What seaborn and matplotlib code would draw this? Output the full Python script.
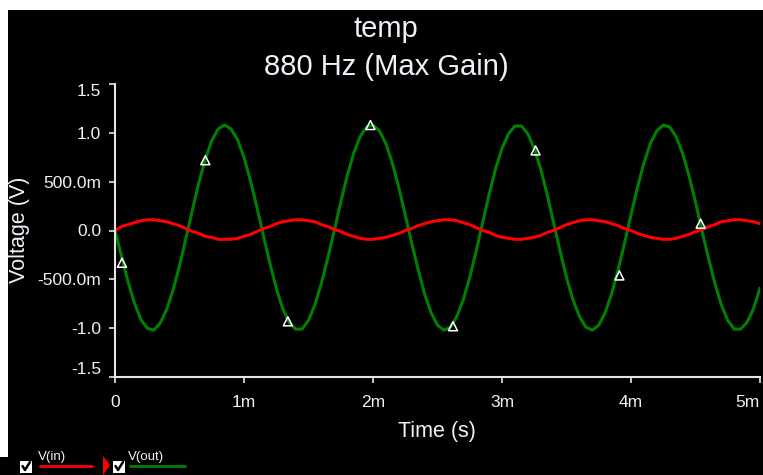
import numpy as np
import pandas as pd
import matplotlib
matplotlib.use('Agg')
import matplotlib.pyplot as plt
import seaborn as sns
from matplotlib.lines import Line2D
from matplotlib.patches import Rectangle

# samples every 0.05 ms, 0 .. 5 ms
time_step_ms = 0.05
v_out = [0.00, -0.26, -0.52, -0.74, -0.91, -1.00, -1.02, -0.95, -0.81, -0.61,
         -0.36, -0.08, 0.21, 0.49, 0.73, 0.92, 1.04, 1.08, 1.04, 0.93,
         0.75, 0.51, 0.24, -0.05, -0.33, -0.59, -0.80, -0.94, -1.01, -1.01,
         -0.92, -0.76, -0.54, -0.28, 0.00, 0.29, 0.56, 0.79, 0.96, 1.06,
         1.08, 1.02, 0.89, 0.69, 0.44, 0.16, -0.13, -0.40, -0.65, -0.84,
         -0.97, -1.02, -0.99, -0.88, -0.71, -0.48, -0.21, 0.08, 0.37, 0.63,
         0.84, 0.99, 1.07, 1.07, 0.99, 0.84, 0.63, 0.37, 0.08, -0.21,
         -0.48, -0.71, -0.88, -0.99, -1.02, -0.97, -0.84, -0.65, -0.40, -0.13,
         0.16, 0.44, 0.69, 0.89, 1.02, 1.08, 1.06, 0.96, 0.79, 0.56,
         0.29, 0.00, -0.28, -0.54, -0.76, -0.92, -1.01, -1.01, -0.94, -0.80,
         -0.59]
v_in = [0.00, 0.04, 0.06, 0.08, 0.10, 0.11, 0.11, 0.10, 0.09, 0.07,
        0.05, 0.02, -0.01, -0.03, -0.06, -0.07, -0.09, -0.09, -0.09, -0.08,
        -0.06, -0.04, -0.01, 0.02, 0.04, 0.07, 0.09, 0.10, 0.11, 0.11,
        0.10, 0.09, 0.06, 0.04, 0.01, -0.01, -0.04, -0.06, -0.08, -0.09,
        -0.09, -0.08, -0.07, -0.05, -0.03, 0.00, 0.02, 0.05, 0.07, 0.09,
        0.10, 0.11, 0.11, 0.10, 0.08, 0.06, 0.03, 0.00, -0.02, -0.05,
        -0.07, -0.08, -0.09, -0.09, -0.08, -0.07, -0.05, -0.02, 0.00, 0.03,
        0.06, 0.08, 0.10, 0.11, 0.11, 0.10, 0.09, 0.07, 0.05, 0.02,
        0.00, -0.03, -0.05, -0.07, -0.08, -0.09, -0.09, -0.08, -0.06, -0.04,
        -0.01, 0.01, 0.04, 0.06, 0.09, 0.10, 0.11, 0.11, 0.10, 0.09,
        0.07]
t_ms = np.arange(len(v_out)) * time_step_ms

# data point markers on V(out)
marker_t = [0.054, 0.70, 1.34, 1.98, 2.62, 3.26, 3.91, 4.54]
marker_v = [-0.33, 0.72, -0.93, 1.08, -0.98, 0.82, -0.46, 0.07]

x_ticks = [0, 1, 2, 3, 4, 5]
x_labels = ['0', '1m', '2m', '3m', '4m', '5m']
y_ticks = [-1.5, -1.0, -0.5, 0.0, 0.5, 1.0, 1.5]
y_labels = ['-1.5', '-1.0', '-500.0m', '0.0', '500.0m', '1.0', '1.5']

df = pd.DataFrame({'t': t_ms, 'V(in)': v_in, 'V(out)': v_out})

sns.set_theme(style='dark')
plt.rcParams['font.family'] = ['Liberation Sans', 'DejaVu Sans']

W, H = 763, 475
fig = plt.figure(figsize=(W / 100, H / 100), dpi=100, facecolor='black')
ax = fig.add_axes([115 / W, 1 - 377 / H, 645 / W, 293 / H])
ax.set_facecolor('black')

fg = '#e6e6e6'
txt = '#eef2f8'

sns.lineplot(data=df, x='t', y='V(out)', color='#008000', linewidth=2.2, ax=ax)
sns.lineplot(data=df, x='t', y='V(in)', color='#ff0000', linewidth=2.2, ax=ax)
sns.scatterplot(x=marker_t, y=marker_v, marker='^', s=42, facecolor='none',
                edgecolor='white', linewidth=1.1, ax=ax, zorder=5)

ax.set_xlim(0, 5)
ax.set_ylim(-1.5, 1.5)
ax.set_xticks(x_ticks)
ax.set_xticklabels(x_labels)
ax.set_yticks(y_ticks)
ax.set_yticklabels(y_labels)
ax.set_xlabel('')
ax.set_ylabel('')
ax.grid(False)

for s in ['top', 'right']:
    ax.spines[s].set_visible(False)
for s in ['left', 'bottom']:
    ax.spines[s].set_visible(True)
    ax.spines[s].set_color(fg)
    ax.spines[s].set_linewidth(1.5)

ax.tick_params(axis='both', colors=fg, labelcolor=txt, labelsize=12.5,
               length=4, width=1.2, direction='out')
ax.tick_params(axis='x', pad=9, bottom=True)
ax.tick_params(axis='y', pad=6, left=True)

# end labels pulled inside the axis range
ax.get_xticklabels()[-1].set_ha('right')
ax.get_yticklabels()[-1].set_va('top')
ax.get_yticklabels()[0].set_va('bottom')

# titles and axis labels
fig.text(386 / W, 1 - 37 / H, 'temp', color=txt, fontsize=21, ha='center', va='baseline')
fig.text(386 / W, 1 - 75 / H, '880 Hz (Max Gain)', color=txt, fontsize=21,
         ha='center', va='baseline')
fig.text(437 / W, 1 - 437 / H, 'Time (s)', color=txt, fontsize=15.5, ha='center', va='baseline')
fig.text(20 / W, 1 - 230 / H, 'Voltage (V)', color=txt, fontsize=15.5, rotation=90,
         ha='center', va='center')

# white frame at top and left
fig.patches.append(Rectangle((0, 1 - 10 / H), 1, 10 / H, transform=fig.transFigure,
                             facecolor='white', edgecolor='none', zorder=0))
fig.patches.append(Rectangle((0, 1 - 457 / H), 8 / W, 457 / H, transform=fig.transFigure,
                             facecolor='white', edgecolor='none', zorder=0))

# legend strip at the bottom
def fx(px):
    return px / W

def fy(py):
    return 1 - py / H

for x0 in [20, 113]:
    fig.patches.append(Rectangle((fx(x0), fy(473)), 12 / W, 12 / H,
                                 transform=fig.transFigure, facecolor='white',
                                 edgecolor='none'))
    fig.lines.append(Line2D([fx(x0 + 2.5), fx(x0 + 5), fx(x0 + 10)],
                            [fy(466), fy(470), fy(462)], transform=fig.transFigure,
                            color='black', linewidth=1.8))

fig.text(fx(38), fy(460), 'V(in)', color=txt, fontsize=9.5, ha='left', va='baseline')
fig.lines.append(Line2D([fx(40), fx(92)], [fy(466), fy(466)], transform=fig.transFigure,
                        color='#ff0000', linewidth=2))
fig.patches.append(plt.Polygon([[fx(103), fy(456)], [fx(110), fy(465)], [fx(103), fy(475)]],
                               closed=True, transform=fig.transFigure,
                               facecolor='#ff0000', edgecolor='none'))
fig.text(fx(128), fy(460), 'V(out)', color=txt, fontsize=9.5, ha='left', va='baseline')
fig.lines.append(Line2D([fx(130), fx(185)], [fy(466), fy(466)], transform=fig.transFigure,
                        color='#008000', linewidth=2))

fig.savefig('out.png', dpi=100, facecolor='black')
